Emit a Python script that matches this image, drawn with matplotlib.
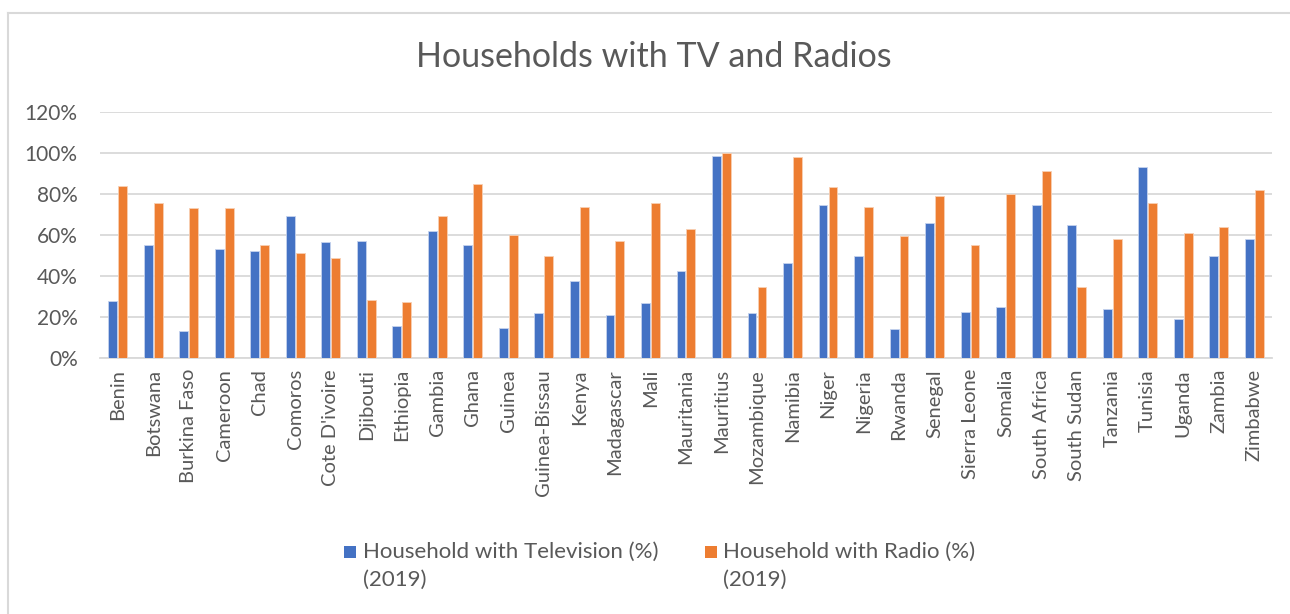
import numpy as np
import matplotlib
matplotlib.use('Agg')
import matplotlib.pyplot as plt
from matplotlib.patches import Rectangle
from matplotlib.lines import Line2D
from matplotlib.ticker import PercentFormatter

# household access to TV and radio, 2019 (fractions)
countries = ['Benin', 'Botswana', 'Burkina Faso', 'Cameroon', 'Chad', 'Comoros',
             "Cote D'ivoire", 'Djibouti', 'Ethiopia', 'Gambia', 'Ghana', 'Guinea',
             'Guinea-Bissau', 'Kenya', 'Madagascar', 'Mali', 'Mauritania', 'Mauritius',
             'Mozambique', 'Namibia', 'Niger', 'Nigeria', 'Rwanda', 'Senegal',
             'Sierra Leone', 'Somalia', 'South Africa', 'South Sudan', 'Tanzania',
             'Tunisia', 'Uganda', 'Zambia', 'Zimbabwe']
tv = [0.28, 0.55, 0.13, 0.533, 0.523, 0.69, 0.566, 0.572, 0.157, 0.62,
      0.55, 0.147, 0.218, 0.374, 0.208, 0.267, 0.423, 0.984, 0.221, 0.462,
      0.744, 0.497, 0.14, 0.66, 0.225, 0.25, 0.747, 0.647, 0.24, 0.929,
      0.192, 0.497, 0.578]
radio = [0.84, 0.757, 0.73, 0.73, 0.549, 0.51, 0.487, 0.283, 0.274, 0.692,
         0.848, 0.598, 0.497, 0.737, 0.569, 0.757, 0.627, 1.0, 0.348, 0.978,
         0.831, 0.737, 0.594, 0.79, 0.549, 0.80, 0.909, 0.348, 0.578, 0.757,
         0.607, 0.637, 0.818]
labels = ['Household with Television (%)\n(2019)', 'Household with Radio (%)\n(2019)']
colors = ['#4472C4', '#ED7D31']

plt.rcParams['font.family'] = ['Lato', 'DejaVu Sans']
txt = '#595959'

fig = plt.figure(figsize=(12.9, 6.14), dpi=100)
ax = fig.add_axes([0.0775, 0.417, 0.9085, 0.401])

x = np.arange(len(countries))
w = 0.25
ax.bar(x - 0.14, tv, w, color=colors[0], edgecolor='#c5d3ee', linewidth=0.6, zorder=3)
ax.bar(x + 0.14, radio, w, color=colors[1], edgecolor='#f8cfb3', linewidth=0.6, zorder=3)

ax.set_xlim(-0.5, len(countries) - 0.5)
ax.set_ylim(0, 1.2)
ax.set_yticks(np.arange(0, 1.21, 0.2))
ax.yaxis.set_major_formatter(PercentFormatter(1.0, decimals=0))
ax.grid(axis='y', color='#d9d9d9', linewidth=1.3, zorder=0)
ax.set_xticks(x)
ax.set_xticklabels(countries, rotation=90)
ax.tick_params(axis='both', length=0, colors=txt)
ax.tick_params(axis='y', pad=16, labelsize=15)
ax.tick_params(axis='x', pad=8, labelsize=14.5)
for s in ['top', 'right', 'left']:
    ax.spines[s].set_visible(False)
ax.spines['bottom'].set_color('#d9d9d9')
ax.spines['bottom'].set_linewidth(1.3)

fig.text(0.507, 0.907, 'Households with TV and Radios', ha='center', va='center',
         fontsize=24.5, color=txt)

# legend, square aligned to the first line of each entry
for (lx, tx), lab, c in zip([(0.2667, 0.2814), (0.5465, 0.5605)], labels, colors):
    fig.add_artist(Rectangle((lx, 0.091), 0.0095, 0.02, transform=fig.transFigure,
                             color=c, lw=0))
    fig.text(tx, 0.117, lab, ha='left', va='top', fontsize=16, color=txt,
             linespacing=1.5)

# chart area border
fig.add_artist(Line2D([0.0062, 1.0], [0.979, 0.979], transform=fig.transFigure,
                      color='#d9d9d9', lw=1.5))
fig.add_artist(Line2D([0.0062, 0.0062], [0.0, 0.979], transform=fig.transFigure,
                      color='#d9d9d9', lw=1.5))

fig.savefig('out.png', dpi=100, facecolor='white')
